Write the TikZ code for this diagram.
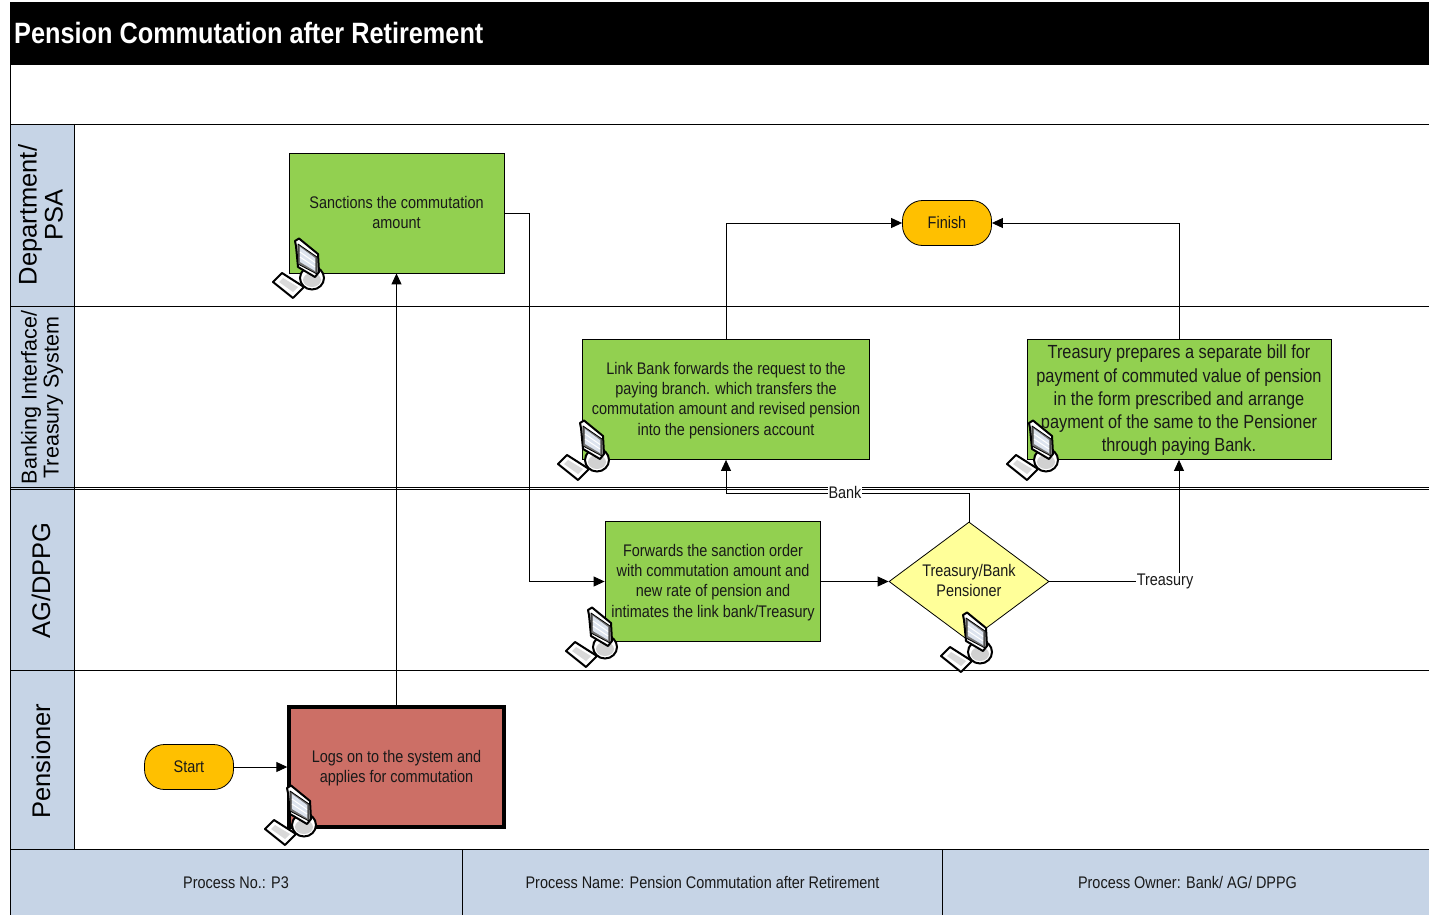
\documentclass[tikz,border=0pt]{standalone}
\usepackage{fontspec}
\setmainfont[FakeStretch=0.86]{Liberation Sans}
\newfontfamily\widefont{Liberation Sans}
\usetikzlibrary{arrows.meta,shapes.geometric}
\definecolor{band}{HTML}{C6D4E6}
\definecolor{boxgreen}{HTML}{92D050}
\definecolor{boxred}{HTML}{CC6F66}
\definecolor{termorange}{HTML}{FFC000}
\definecolor{diayellow}{HTML}{FFFF99}
\definecolor{screenblue}{HTML}{DCE3EE}
\tikzset{
  x=1pt,y=-1pt,
  txt/.style={font=\fontsize{16.8}{20.3}\selectfont,align=center,text=black!90,inner sep=0pt},
  greenbox/.style={draw=black,line width=0.8pt,fill=boxgreen,inner sep=0pt},
  terminal/.style={txt,draw=black,line width=0.8pt,fill=termorange,rounded corners=20pt,minimum width=89pt,minimum height=45pt},
  conn/.style={draw=black,line width=0.9pt,-{Triangle[length=11pt,width=10pt]}},
  plain/.style={draw=black,line width=0.8pt},
  lane/.style={font=\widefont\fontsize{25.5}{26}\selectfont,rotate=90,align=center,inner sep=0pt,text=black},
  lanesmall/.style={font=\widefont\fontsize{21.5}{22}\selectfont,rotate=90,align=center,inner sep=0pt,text=black},
  edgelabel/.style={txt,fill=white,inner xsep=1pt,inner ysep=1pt},
  footer/.style={txt,anchor=center},
  computer/.pic={
    % keyboard
    \filldraw[fill=white,draw=black,line width=2pt,line join=round] (0,44) -- (9,35) -- (31,49) -- (20,60) -- cycle;
    \filldraw[fill=black!15,draw=none] (6,44) -- (10,40) -- (25,49) -- (20,54) -- cycle;
    % base
    \filldraw[fill=white,draw=black,line width=2pt] (39,40) ellipse (12pt and 11.5pt);
    \filldraw[fill=black!18,draw=none] (39,42) ellipse (9pt and 7pt);
    % monitor
    \filldraw[fill=white,draw=black,line width=2pt,line join=round] (23,8) -- (22,3) -- (26,0.5) -- (45,16) -- (46,34) -- (42,39) -- (25,29) -- cycle;
    \filldraw[fill=black!55,draw=black,line width=0.8pt,line join=round] (25,6) -- (44,19) -- (44,36) -- (25,26) -- cycle;
    \filldraw[fill=screenblue,draw=none] (27,9) -- (42,20) -- (42,33) -- (27,24) -- cycle;
    \draw[white,line width=1pt] (27,14) -- (42,24.5) (27,19) -- (42,29);
  }
}
\begin{document}
\begin{tikzpicture}
\useasboundingbox (0,0) rectangle (1429,915);
\fill[white] (0,0) rectangle (1429,915);
% frame
\fill[black] (10,2) rectangle (1429,65);
\node[anchor=west,inner sep=0pt,text=white,font=\bfseries\fontsize{29.4}{32}\selectfont] (title) at (14,33) {Pension Commutation after Retirement};
\fill[band] (10,124) rectangle (74,850);
\fill[band] (10,850) rectangle (1429,915);
\draw[plain] (10,65) -- (10,915);
\draw[plain] (74,124) -- (74,850);
\draw[plain] (10,124) -- (1429,124);
\draw[plain] (10,306) -- (1429,306);
\draw[plain] (10,487.5) -- (1429,487.5);
\draw[plain] (10,489.5) -- (1429,489.5);
\draw[plain] (10,670.5) -- (1429,670.5);
\draw[plain] (10,849.5) -- (1429,849.5);
\draw[plain] (462,850) -- (462,915);
\draw[plain] (942.5,850) -- (942.5,915);
% lanes
\node[lane] (laneA) at (40.5,215) {Department/\\PSA};
\node[lanesmall] (laneB) at (42,397.5) {Banking Interface/\\Treasury System};
\node[lane] (laneC) at (41,580.5) {AG/DPPG};
\node[lane] (laneD) at (41,761) {Pensioner};
% nodes
\node[greenbox,minimum width=215pt,minimum height=120pt] (sanction) at (396.5,213) {};
\node[txt] at (396.5,212.2) {Sanctions the commutation\\amount};
\node[greenbox,minimum width=287pt,minimum height=120pt] (link) at (726,399.5) {};
\node[txt] at (726,400.3) {Link Bank forwards the request to the\\paying branch. which transfers the\\commutation amount and revised pension\\into the pensioners account};
\node[greenbox,minimum width=304pt,minimum height=120pt] (treasury) at (1179,399.5) {};
\node[txt,font=\fontsize{19}{23.2}\selectfont] at (1179,400.3) {Treasury prepares a separate bill for\\payment of commuted value of pension\\in the form prescribed and arrange\\payment of the same to the Pensioner\\through paying Bank.};
\node[greenbox,minimum width=215pt,minimum height=120.5pt] (forward) at (712.5,581.5) {};
\node[txt] at (713,582.3) {Forwards the sanction order\\with commutation amount and\\new rate of pension and\\intimates the link bank/Treasury};
\node[diamond,draw=black,line width=0.8pt,fill=diayellow,minimum width=160pt,minimum height=119pt,inner sep=0pt] (decide) at (969,581.5) {};
\node[txt] at (969,580.5) {Treasury/Bank\\Pensioner};
\node[draw=black,line width=3.4pt,fill=boxred,minimum width=215pt,minimum height=120pt,inner sep=0pt] (logs) at (396.5,767) {};
\node[txt] at (396.5,767.8) {Logs on to the system and\\applies for commutation};
\node[terminal] (start) at (189,767) {Start};
\node[terminal] (finish) at (947,223) {};
\node[txt] (finishtext) at (947,222.3) {Finish};
% connectors
\draw[conn] (start) -- (logs.west);
\draw[conn] (logs.north) -- (sanction.south);
\draw[conn] (sanction.east) -- (529,213) -- (529,581.5) -- (forward.west);
\draw[conn] (forward.east) -- (decide.west);
\draw[conn] (link.north) -- (726,223) -- (finish.west);
\draw[conn] (treasury.north) -- (1179,223) -- (finish.east);
\draw[conn] (decide.north) -- (969,493) -- (726,493) -- (link.south);
\draw[conn] (decide.east) -- (1179,581.5) -- (treasury.south);
\node[edgelabel] (bank) at (845,492) {Bank};
\node[edgelabel] (treasurylabel) at (1165,581.5) {Treasury};
% computers
\pic at (273,238) {computer};
\pic at (558,420) {computer};
\pic at (1007,420) {computer};
\pic at (566,607) {computer};
\pic at (941,612) {computer};
\pic at (265,785) {computer};
% footer
\node[footer] (f1) at (236,882.5) {Process No.: P3};
\node[footer] (f2) at (702.5,882.5) {Process Name: Pension Commutation after Retirement};
\node[footer] (f3) at (1187.5,882.5) {Process Owner: Bank/ AG/ DPPG};
\end{tikzpicture}
\end{document}
